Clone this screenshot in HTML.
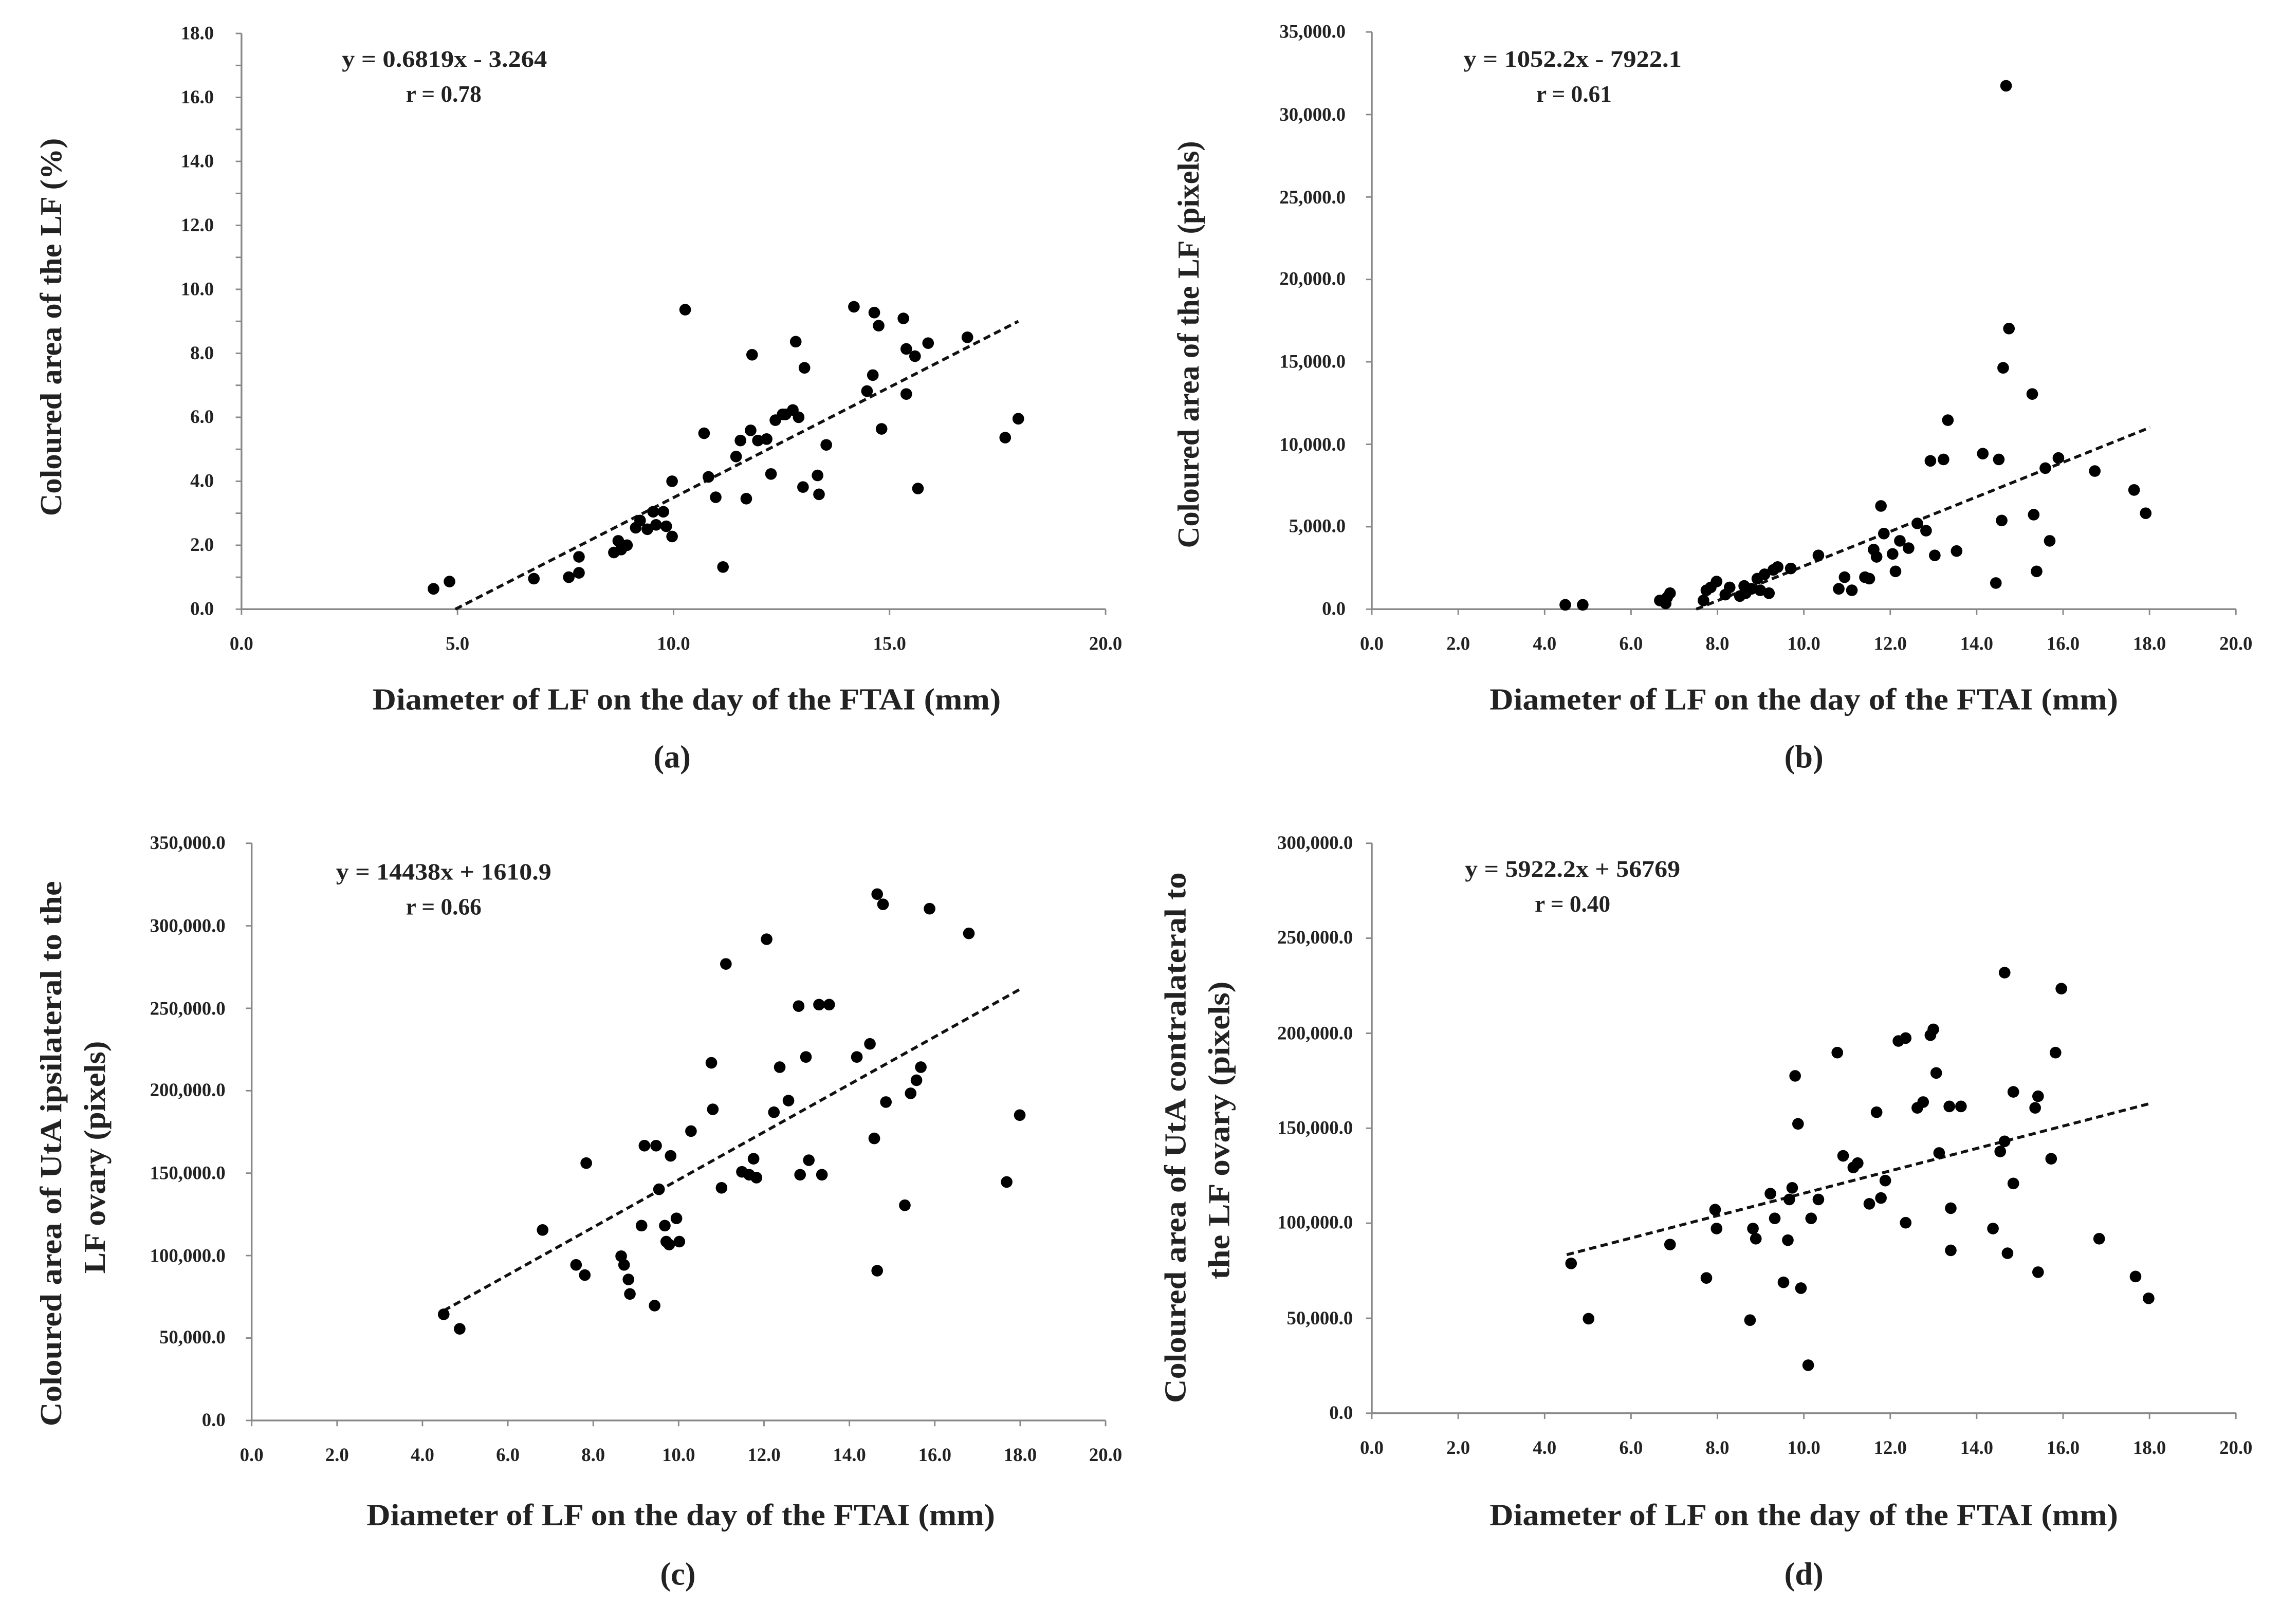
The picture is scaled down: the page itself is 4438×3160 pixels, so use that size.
<!DOCTYPE html>
<html><head><meta charset="utf-8"><style>
html,body{margin:0;padding:0;background:#fff;}
svg{display:block;}
text{font-family:"Liberation Serif",serif;font-weight:bold;fill:#222;}
.t{font-size:13px;font-weight:normal;fill:#111;}
.at{font-size:21px;}
.eq{font-size:16px;}
.lb{font-size:22px;}
</style></head><body>
<svg width="4438" height="3160" viewBox="0 0 1568 1117" preserveAspectRatio="none" xmlns="http://www.w3.org/2000/svg">
<g stroke="#888" stroke-width="1.2" fill="none">
<path d="M166,23V419H760"/>
<path d="M943,22V419H1537"/>
<path d="M173,580V977H760"/>
<path d="M943,580V972H1537"/>
</g>
<g stroke="#888" stroke-width="1">
<path d="M162,419h4M162,397h4M162,375h4M162,353h4M162,331h4M162,309h4M162,287h4M162,265h4M162,243h4M162,221h4M162,199h4M162,177h4M162,155h4M162,133h4M162,111h4M162,89h4M162,67h4M162,45h4M162,23h4"/>
<path d="M166,419v4M314.5,419v4M463,419v4M611.5,419v4M760,419v4"/>
<path d="M939,419h4M939,362.3h4M939,305.6h4M939,248.9h4M939,192.2h4M939,135.5h4M939,78.8h4M939,22h4"/>
<path d="M943,419v4M1002.4,419v4M1061.8,419v4M1121.2,419v4M1180.6,419v4M1240,419v4M1299.4,419v4M1358.8,419v4M1418.2,419v4M1477.6,419v4M1537,419v4"/>
<path d="M169,977h4M169,920.3h4M169,863.6h4M169,806.9h4M169,750.2h4M169,693.5h4M169,636.8h4M169,580h4"/>
<path d="M173,977v4M231.7,977v4M290.4,977v4M349.1,977v4M407.8,977v4M466.5,977v4M525.2,977v4M583.9,977v4M642.6,977v4M701.3,977v4M760,977v4"/>
<path d="M939,972h4M939,906.7h4M939,841.3h4M939,776h4M939,710.7h4M939,645.3h4M939,580h4"/>
<path d="M943,972v4M1002.4,972v4M1061.8,972v4M1121.2,972v4M1180.6,972v4M1240,972v4M1299.4,972v4M1358.8,972v4M1418.2,972v4M1477.6,972v4M1537,972v4"/>
</g>
<g class="t" text-anchor="end">
<text x="147" y="423">0.0</text><text x="147" y="379">2.0</text><text x="147" y="335">4.0</text><text x="147" y="291">6.0</text><text x="147" y="247">8.0</text><text x="147" y="203">10.0</text><text x="147" y="159">12.0</text><text x="147" y="115">14.0</text><text x="147" y="71">16.0</text><text x="147" y="27">18.0</text>
<text x="925" y="423">0.0</text><text x="925" y="366">5,000.0</text><text x="925" y="310">10,000.0</text><text x="925" y="253">15,000.0</text><text x="925" y="196">20,000.0</text><text x="925" y="140">25,000.0</text><text x="925" y="83">30,000.0</text><text x="925" y="26">35,000.0</text>
<text x="155" y="981">0.0</text><text x="155" y="924">50,000.0</text><text x="155" y="868">100,000.0</text><text x="155" y="811">150,000.0</text><text x="155" y="754">200,000.0</text><text x="155" y="698">250,000.0</text><text x="155" y="641">300,000.0</text><text x="155" y="584">350,000.0</text>
<text x="930" y="976">0.0</text><text x="930" y="911">50,000.0</text><text x="930" y="845">100,000.0</text><text x="930" y="780">150,000.0</text><text x="930" y="715">200,000.0</text><text x="930" y="649">250,000.0</text><text x="930" y="584">300,000.0</text>
</g>
<g class="t" text-anchor="middle">
<text x="166" y="447">0.0</text><text x="314.5" y="447">5.0</text><text x="463" y="447">10.0</text><text x="611.5" y="447">15.0</text><text x="760" y="447">20.0</text>
<text x="943" y="447">0.0</text><text x="1002.4" y="447">2.0</text><text x="1061.8" y="447">4.0</text><text x="1121.2" y="447">6.0</text><text x="1180.6" y="447">8.0</text><text x="1240" y="447">10.0</text><text x="1299.4" y="447">12.0</text><text x="1358.8" y="447">14.0</text><text x="1418.2" y="447">16.0</text><text x="1477.6" y="447">18.0</text><text x="1537" y="447">20.0</text>
<text x="173" y="1005">0.0</text><text x="231.7" y="1005">2.0</text><text x="290.4" y="1005">4.0</text><text x="349.1" y="1005">6.0</text><text x="407.8" y="1005">8.0</text><text x="466.5" y="1005">10.0</text><text x="525.2" y="1005">12.0</text><text x="583.9" y="1005">14.0</text><text x="642.6" y="1005">16.0</text><text x="701.3" y="1005">18.0</text><text x="760" y="1005">20.0</text>
<text x="943" y="1000">0.0</text><text x="1002.4" y="1000">2.0</text><text x="1061.8" y="1000">4.0</text><text x="1121.2" y="1000">6.0</text><text x="1180.6" y="1000">8.0</text><text x="1240" y="1000">10.0</text><text x="1299.4" y="1000">12.0</text><text x="1358.8" y="1000">14.0</text><text x="1418.2" y="1000">16.0</text><text x="1477.6" y="1000">18.0</text><text x="1537" y="1000">20.0</text>
</g>
<g class="at">
<text x="256" y="488" textLength="432" lengthAdjust="spacingAndGlyphs">Diameter of LF on the day of the FTAI (mm)</text>
<text x="1024" y="488" textLength="432" lengthAdjust="spacingAndGlyphs">Diameter of LF on the day of the FTAI (mm)</text>
<text x="252" y="1049" textLength="432" lengthAdjust="spacingAndGlyphs">Diameter of LF on the day of the FTAI (mm)</text>
<text x="1024" y="1049" textLength="432" lengthAdjust="spacingAndGlyphs">Diameter of LF on the day of the FTAI (mm)</text>
<text transform="translate(42,355) rotate(-90)" textLength="260" lengthAdjust="spacingAndGlyphs">Coloured area of the LF (%)</text>
<text transform="translate(824,377) rotate(-90)" textLength="280" lengthAdjust="spacingAndGlyphs">Coloured area of the LF (pixels)</text>
<text transform="translate(42,981) rotate(-90)" textLength="375" lengthAdjust="spacingAndGlyphs">Coloured area of UtA ipsilateral to the</text>
<text transform="translate(72,876) rotate(-90)" textLength="160" lengthAdjust="spacingAndGlyphs">LF ovary (pixels)</text>
<text transform="translate(815,965) rotate(-90)" textLength="365" lengthAdjust="spacingAndGlyphs">Coloured area of UtA contralateral to</text>
<text transform="translate(845,880) rotate(-90)" textLength="205" lengthAdjust="spacingAndGlyphs">the LF ovary (pixels)</text>
</g>
<g class="lb" text-anchor="middle">
<text x="462" y="528">(a)</text><text x="1240" y="528">(b)</text><text x="466" y="1090">(c)</text><text x="1240" y="1090">(d)</text>
</g>
<g class="eq">
<text x="235" y="46" textLength="141" lengthAdjust="spacingAndGlyphs">y = 0.6819x - 3.264</text><text x="305" y="70" text-anchor="middle">r = 0.78</text>
<text x="1006" y="46" textLength="150" lengthAdjust="spacingAndGlyphs">y = 1052.2x - 7922.1</text><text x="1082" y="70" text-anchor="middle">r = 0.61</text>
<text x="231" y="605" textLength="148" lengthAdjust="spacingAndGlyphs">y = 14438x + 1610.9</text><text x="305" y="629" text-anchor="middle">r = 0.66</text>
<text x="1007" y="603" textLength="148" lengthAdjust="spacingAndGlyphs">y = 5922.2x + 56769</text><text x="1081" y="627" text-anchor="middle">r = 0.40</text>
</g>
<g stroke="#111" stroke-width="2" stroke-dasharray="5,3">
<path d="M313,419L700,221"/>
<path d="M1166,419L1478,294"/>
<path d="M305,901.5L701,680.5"/>
<path d="M1077,863L1478,759"/>
</g>
<g fill="#000">
<circle cx="298" cy="405" r="4"/><circle cx="309" cy="400" r="4"/><circle cx="367" cy="398" r="4"/><circle cx="391" cy="397" r="4"/><circle cx="398" cy="394" r="4"/><circle cx="398" cy="383" r="4"/><circle cx="422" cy="380" r="4"/><circle cx="425" cy="372" r="4"/><circle cx="427" cy="378" r="4"/><circle cx="431" cy="375" r="4"/><circle cx="437" cy="363" r="4"/><circle cx="440" cy="358" r="4"/><circle cx="445" cy="364" r="4"/><circle cx="449" cy="352" r="4"/><circle cx="451" cy="361" r="4"/><circle cx="456" cy="352" r="4"/><circle cx="458" cy="362" r="4"/><circle cx="462" cy="369" r="4"/><circle cx="462" cy="331" r="4"/><circle cx="471" cy="213" r="4"/><circle cx="484" cy="298" r="4"/><circle cx="487" cy="328" r="4"/><circle cx="492" cy="342" r="4"/><circle cx="497" cy="390" r="4"/><circle cx="506" cy="314" r="4"/><circle cx="509" cy="303" r="4"/><circle cx="513" cy="343" r="4"/><circle cx="516" cy="296" r="4"/><circle cx="517" cy="244" r="4"/><circle cx="521" cy="303" r="4"/><circle cx="527" cy="302" r="4"/><circle cx="530" cy="326" r="4"/><circle cx="533" cy="289" r="4"/><circle cx="538" cy="285" r="4"/><circle cx="540" cy="285" r="4"/><circle cx="545" cy="282" r="4"/><circle cx="547" cy="235" r="4"/><circle cx="549" cy="287" r="4"/><circle cx="552" cy="335" r="4"/><circle cx="553" cy="253" r="4"/><circle cx="562" cy="327" r="4"/><circle cx="563" cy="340" r="4"/><circle cx="568" cy="306" r="4"/><circle cx="587" cy="211" r="4"/><circle cx="596" cy="269" r="4"/><circle cx="600" cy="258" r="4"/><circle cx="601" cy="215" r="4"/><circle cx="604" cy="224" r="4"/><circle cx="606" cy="295" r="4"/><circle cx="621" cy="219" r="4"/><circle cx="623" cy="271" r="4"/><circle cx="623" cy="240" r="4"/><circle cx="629" cy="245" r="4"/><circle cx="631" cy="336" r="4"/><circle cx="638" cy="236" r="4"/><circle cx="665" cy="232" r="4"/><circle cx="691" cy="301" r="4"/><circle cx="700" cy="288" r="4"/>
<circle cx="1076" cy="416" r="4"/><circle cx="1088" cy="416" r="4"/><circle cx="1146" cy="411" r="4"/><circle cx="1141" cy="413" r="4"/><circle cx="1145" cy="415" r="4"/><circle cx="1148" cy="408" r="4"/><circle cx="1171" cy="413" r="4"/><circle cx="1173" cy="406" r="4"/><circle cx="1176" cy="404" r="4"/><circle cx="1180" cy="400" r="4"/><circle cx="1186" cy="409" r="4"/><circle cx="1189" cy="404" r="4"/><circle cx="1196" cy="410" r="4"/><circle cx="1199" cy="403" r="4"/><circle cx="1200" cy="408" r="4"/><circle cx="1204" cy="405" r="4"/><circle cx="1208" cy="398" r="4"/><circle cx="1210" cy="406" r="4"/><circle cx="1213" cy="395" r="4"/><circle cx="1216" cy="408" r="4"/><circle cx="1219" cy="392" r="4"/><circle cx="1222" cy="390" r="4"/><circle cx="1231" cy="391" r="4"/><circle cx="1250" cy="382" r="4"/><circle cx="1264" cy="405" r="4"/><circle cx="1268" cy="397" r="4"/><circle cx="1273" cy="406" r="4"/><circle cx="1282" cy="397" r="4"/><circle cx="1285" cy="398" r="4"/><circle cx="1288" cy="378" r="4"/><circle cx="1290" cy="383" r="4"/><circle cx="1293" cy="348" r="4"/><circle cx="1295" cy="367" r="4"/><circle cx="1301" cy="381" r="4"/><circle cx="1303" cy="393" r="4"/><circle cx="1306" cy="372" r="4"/><circle cx="1312" cy="377" r="4"/><circle cx="1318" cy="360" r="4"/><circle cx="1324" cy="365" r="4"/><circle cx="1327" cy="317" r="4"/><circle cx="1330" cy="382" r="4"/><circle cx="1336" cy="316" r="4"/><circle cx="1339" cy="289" r="4"/><circle cx="1345" cy="379" r="4"/><circle cx="1363" cy="312" r="4"/><circle cx="1372" cy="401" r="4"/><circle cx="1374" cy="316" r="4"/><circle cx="1376" cy="358" r="4"/><circle cx="1377" cy="253" r="4"/><circle cx="1379" cy="59" r="4"/><circle cx="1381" cy="226" r="4"/><circle cx="1397" cy="271" r="4"/><circle cx="1398" cy="354" r="4"/><circle cx="1400" cy="393" r="4"/><circle cx="1406" cy="322" r="4"/><circle cx="1409" cy="372" r="4"/><circle cx="1415" cy="315" r="4"/><circle cx="1440" cy="324" r="4"/><circle cx="1467" cy="337" r="4"/><circle cx="1475" cy="353" r="4"/>
<circle cx="305" cy="904" r="4"/><circle cx="316" cy="914" r="4"/><circle cx="373" cy="846" r="4"/><circle cx="396" cy="870" r="4"/><circle cx="402" cy="877" r="4"/><circle cx="403" cy="800" r="4"/><circle cx="427" cy="864" r="4"/><circle cx="429" cy="870" r="4"/><circle cx="432" cy="880" r="4"/><circle cx="433" cy="890" r="4"/><circle cx="441" cy="843" r="4"/><circle cx="443" cy="788" r="4"/><circle cx="450" cy="898" r="4"/><circle cx="451" cy="788" r="4"/><circle cx="453" cy="818" r="4"/><circle cx="457" cy="843" r="4"/><circle cx="458" cy="854" r="4"/><circle cx="460" cy="856" r="4"/><circle cx="461" cy="795" r="4"/><circle cx="465" cy="838" r="4"/><circle cx="467" cy="854" r="4"/><circle cx="475" cy="778" r="4"/><circle cx="489" cy="731" r="4"/><circle cx="490" cy="763" r="4"/><circle cx="496" cy="817" r="4"/><circle cx="499" cy="663" r="4"/><circle cx="510" cy="806" r="4"/><circle cx="515" cy="808" r="4"/><circle cx="518" cy="797" r="4"/><circle cx="520" cy="810" r="4"/><circle cx="527" cy="646" r="4"/><circle cx="532" cy="765" r="4"/><circle cx="536" cy="734" r="4"/><circle cx="542" cy="757" r="4"/><circle cx="549" cy="692" r="4"/><circle cx="550" cy="808" r="4"/><circle cx="554" cy="727" r="4"/><circle cx="556" cy="798" r="4"/><circle cx="563" cy="691" r="4"/><circle cx="565" cy="808" r="4"/><circle cx="570" cy="691" r="4"/><circle cx="589" cy="727" r="4"/><circle cx="598" cy="718" r="4"/><circle cx="601" cy="783" r="4"/><circle cx="603" cy="874" r="4"/><circle cx="603" cy="615" r="4"/><circle cx="607" cy="622" r="4"/><circle cx="609" cy="758" r="4"/><circle cx="622" cy="829" r="4"/><circle cx="626" cy="752" r="4"/><circle cx="630" cy="743" r="4"/><circle cx="633" cy="734" r="4"/><circle cx="639" cy="625" r="4"/><circle cx="666" cy="642" r="4"/><circle cx="692" cy="813" r="4"/><circle cx="701" cy="767" r="4"/>
<circle cx="1080" cy="869" r="4"/><circle cx="1092" cy="907" r="4"/><circle cx="1148" cy="856" r="4"/><circle cx="1173" cy="879" r="4"/><circle cx="1179" cy="832" r="4"/><circle cx="1180" cy="845" r="4"/><circle cx="1203" cy="908" r="4"/><circle cx="1205" cy="845" r="4"/><circle cx="1207" cy="852" r="4"/><circle cx="1217" cy="821" r="4"/><circle cx="1220" cy="838" r="4"/><circle cx="1226" cy="882" r="4"/><circle cx="1229" cy="853" r="4"/><circle cx="1230" cy="825" r="4"/><circle cx="1232" cy="817" r="4"/><circle cx="1234" cy="740" r="4"/><circle cx="1236" cy="773" r="4"/><circle cx="1238" cy="886" r="4"/><circle cx="1243" cy="939" r="4"/><circle cx="1245" cy="838" r="4"/><circle cx="1250" cy="825" r="4"/><circle cx="1263" cy="724" r="4"/><circle cx="1267" cy="795" r="4"/><circle cx="1274" cy="803" r="4"/><circle cx="1277" cy="800" r="4"/><circle cx="1285" cy="828" r="4"/><circle cx="1290" cy="765" r="4"/><circle cx="1293" cy="824" r="4"/><circle cx="1296" cy="812" r="4"/><circle cx="1305" cy="716" r="4"/><circle cx="1310" cy="714" r="4"/><circle cx="1310" cy="841" r="4"/><circle cx="1318" cy="762" r="4"/><circle cx="1322" cy="758" r="4"/><circle cx="1327" cy="712" r="4"/><circle cx="1329" cy="708" r="4"/><circle cx="1331" cy="738" r="4"/><circle cx="1333" cy="793" r="4"/><circle cx="1340" cy="761" r="4"/><circle cx="1341" cy="860" r="4"/><circle cx="1341" cy="831" r="4"/><circle cx="1348" cy="761" r="4"/><circle cx="1370" cy="845" r="4"/><circle cx="1375" cy="792" r="4"/><circle cx="1378" cy="669" r="4"/><circle cx="1378" cy="785" r="4"/><circle cx="1380" cy="862" r="4"/><circle cx="1384" cy="751" r="4"/><circle cx="1384" cy="814" r="4"/><circle cx="1399" cy="762" r="4"/><circle cx="1401" cy="754" r="4"/><circle cx="1401" cy="875" r="4"/><circle cx="1410" cy="797" r="4"/><circle cx="1413" cy="724" r="4"/><circle cx="1417" cy="680" r="4"/><circle cx="1443" cy="852" r="4"/><circle cx="1468" cy="878" r="4"/><circle cx="1477" cy="893" r="4"/>
</g>
</svg>
</body></html>
